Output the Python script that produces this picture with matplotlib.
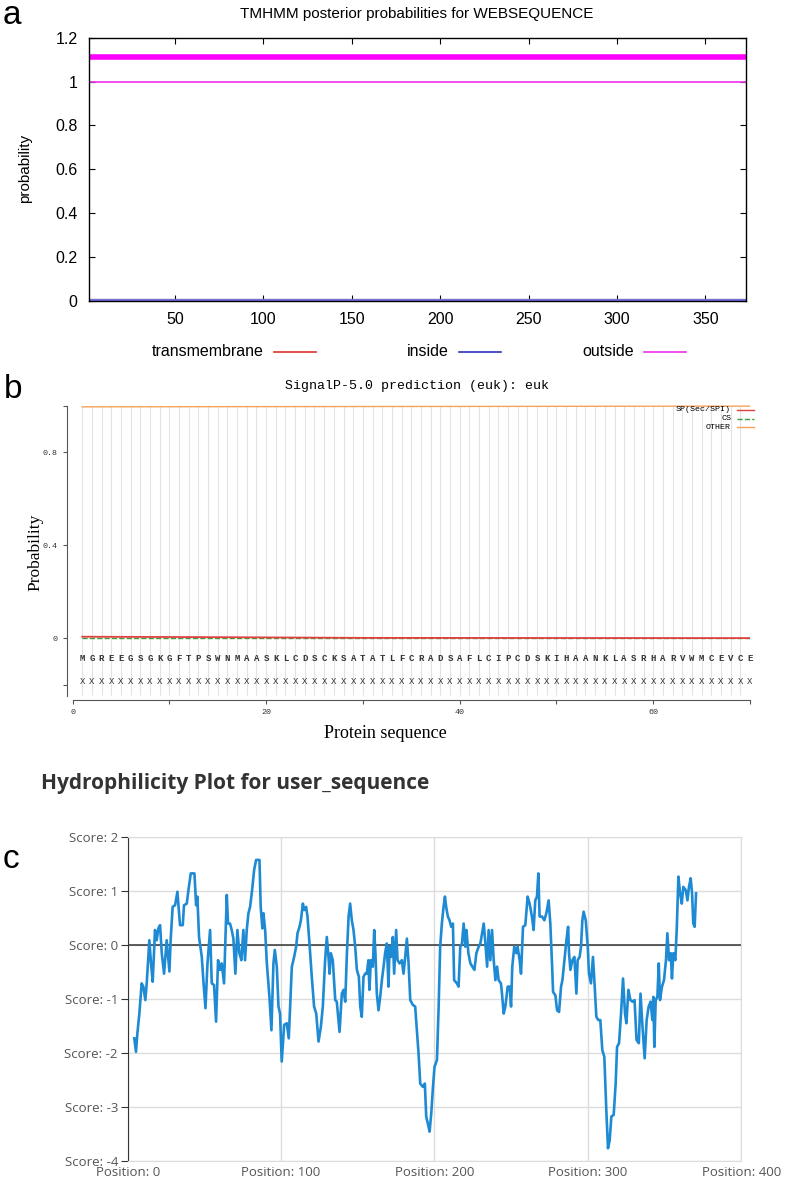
import numpy as np
import matplotlib
matplotlib.use("Agg")
import matplotlib.pyplot as plt
from matplotlib.lines import Line2D

W, H = 786, 1183

# ---------- panel a: TMHMM posterior probabilities ----------
tm_pos = [1, 373]
tm_transmembrane = [0.0, 0.0]
tm_inside = [0.0, 0.0]
tm_outside = [1.0, 1.0]
tm_topology = [1.11, 1.11]  # predicted outside segment, drawn above the curves
tm_xticks = [50, 100, 150, 200, 250, 300, 350]
tm_yticks = [0, 0.2, 0.4, 0.6, 0.8, 1, 1.2]
tm_ylabels = ['0', '0.2', '0.4', '0.6', '0.8', '1', '1.2']

# ---------- panel b: SignalP-5.0 ----------
sequence = "MGREEGSGKGFTPSWNMAASKLCDSCKSATATLFCRADSAFLCIPCDSKIHAANKLASRHARVWMCEVCE"
sp_pos = [1, 15, 30, 70]
sp_prob = [0.007, 0.005, 0.002, 0.001]
cs_pos = [1, 70]
cs_prob = [0.0, 0.0]
other_pos = [1, 70]
other_prob = [0.995, 0.998]
sp_yticks = [-0.2, 0, 0.4, 0.8, 1.0]
sp_ylabels = ['', '0', '0.4', '0.8', '']

# ---------- panel c: hydrophilicity ----------
hyd_pos = [4.3, 5.4, 6.3, 7.6, 9.1, 10.2, 11.5, 12.4, 14.1, 15.2, 16.3, 17.8, 18.9, 20, 21.1,
           22.2, 23.7, 25.4, 27.2, 28, 29.3, 30.9, 32.4, 33.3, 34.1, 35.9, 36.7, 38.5, 39.6,
           41.1, 43.5, 44.6, 45.4, 46.5, 48.3, 49.3, 50.7, 52, 53.7, 54.8, 56.3, 57.6, 58.9,
           60.2, 61.3, 62.8, 64.6, 65.4, 66.7, 67.8, 68.9, 70.2, 71.5, 72.8, 74.1, 75.4, 76.5,
           77.6, 78.7, 79.8, 81.1, 82.4, 83.7, 85.9, 86.7, 87.8, 88.5, 89.6, 90.7, 92.4, 93.7,
           95, 95.9, 97.2, 98.3, 99.3, 100.4, 102, 103.7, 105,
           107, 108.5, 109.8, 110.7, 112, 112.9, 114.2, 115, 116.3, 117.2, 118.5, 120, 121.5,
           122.9, 124.4, 125.9, 127.2, 128.7, 129.8, 130.9, 131.6, 132.4, 133.7, 135.3, 136.3,
           138.1, 139.6, 140.7, 141.8, 142.9, 144, 145, 146.1, 147.2, 148.3, 149.4, 150.7,
           151.6, 152.6, 153.7, 154.8, 155.9, 156.9, 157.6, 158.5, 159.8, 160.7, 161.5, 162.4,
           163.5, 164.6, 165.7, 166.8, 167.8, 168.9, 170, 170.7, 171.7, 172.8, 173.7, 175,
           175.9, 177.2, 178.7, 179.8, 180.9, 182, 183.1, 184.2, 185.9, 187.4, 188.5, 189.6,
           190.7, 192.4, 193.7, 194.6, 195.9, 196.8, 197.9, 199, 200, 201.6, 202.7, 203.7,
           204.8, 205.9, 206.8, 207.6, 208.7, 209.8, 210.9, 212, 212.8, 214.6, 215.7, 216.8,
           217.9, 219, 220.1, 220.8, 222.1, 223.4, 224.7, 226, 227.3, 228.8, 229.9, 231, 232.1,
           233.2, 234.3, 235.3, 236.4, 237.5, 238.6, 239.7, 240.8, 241.8, 243.3,
           244, 245.1, 246.2, 247.7, 249, 249.9, 250.7, 252, 253.4, 254.2, 255.5, 256.4, 257.7,
           259.2, 260.7, 262, 263.5, 264.6, 265.7, 266.8, 267.7, 268.5, 270.1, 271.6, 272.9,
           274.4, 275.5, 276.6, 277.3, 278.8, 279.9, 281.2, 282.5, 283.4, 284.7, 286, 287.1,
           287.7, 288.6, 289.9, 291.2, 292.5, 293.3, 294.6, 295.5, 296.4, 297.2, 298.6, 299.9,
           300.7, 302, 303.3, 304.2, 305.5, 306.8, 308.1, 309.4, 310.7, 312, 313.1, 314.2,
           315.3, 316.8, 318.1, 319, 320.3, 321.6, 322.9, 324.2, 325.1, 326.4, 327.7, 329.1,
           330.4, 331.7, 333.2, 334.3, 335.6, 337, 338.3, 339.6, 340.9, 342, 342.7, 343.3,
           344.2, 345.3, 346.2, 347, 348.3, 349.6, 350.9, 351.8, 352.9, 354, 354.8, 355.7, 357,
           357.9, 359, 360.1, 361.2, 362.2, 363.8, 364.9, 365.9, 367, 367.9, 368.7, 369.6, 370.5]
hyd_score = [-1.73, -1.98, -1.64, -1.27, -0.71, -0.77, -1.02, -0.71, 0.09, -0.34, -0.68, 0.28,
             0.09, 0.31, 0.37, -0.15, -0.53, 0.09, -0.49, 0.09, 0.71, 0.74, 0.99, 0.65, 0.37,
             0.37, 0.74, 0.77, 1.02, 1.33, 1.33, 0.74, 0.90, 0.15, -0.22, -0.65, -1.17, -0.34,
             0.28, -0.71, -0.74, -1.42, -0.28, -0.46, -0.34, -0.71, 0.93, 0.40, 0.40, 0.28, 0.12,
             -0.53, 0.28, -0.15, -0.28, 0.28, -0.28, 0.28, 0.59, 0.71, 1.02, 1.39, 1.58, 1.58,
             0.71, 0.31, 0.59, 0.28, -0.34, -0.96, -1.58, -0.34, -0.09, -0.40, -1.14, -1.27,
             -2.16, -1.48, -1.45, -1.73,
             -0.40, -0.22, -0.03, 0.22, 0.34, 0.46, 0.77, 0.65, 0.71, 0.53, 0.03, -0.59, -1.14,
             -1.27, -1.79, -1.52, -1.14, -0.28, 0.15, -0.22, -0.53, -0.15, -0.28, -1.02, -1.05,
             -1.61, -0.90, -0.83, -1.05, -0.15, 0.53, 0.77, 0.46, 0.28, -0.03, -0.46, -0.59,
             -1.14, -1.33, -0.59, -0.53, -0.53, -0.28, -0.83, -0.28, -0.40, 0.28, -0.15, -0.90,
             -1.21, -0.96, -0.65, -0.40, -0.15, 0.03, -0.77, -0.03, -0.22, 0.15, -0.53, 0.28,
             -0.28, -0.34, -0.28, -0.53, -0.22, 0.12, -0.34, -1.02, -1.11, -1.14, -1.58, -2.01,
             -2.57, -2.63, -2.57, -3.18, -3.34, -3.46, -3.12, -2.63, -2.26, -2.13, -1.14, -0.03,
             0.40, 0.71, 0.90, 0.71, 0.53, 0.46, 0.34, 0.40, -0.65, -0.71, -0.77, -0.03,
             0.03, 0.40, -0.03, 0.28, -0.15, -0.34, -0.40, -0.46, -0.15, -0.03, 0.03, 0.22, 0.40,
             0.03, -0.40, 0.28, -0.28, 0.28, -0.28, -0.65, -0.40, -0.65, -0.71,
             -0.90, -1.27, -1.14, -0.77, -0.77, -1.14, -0.40, -0.03, -0.15, -0.03, -0.28, -0.53,
             0.34, 0.37, 0.90, 0.77, 0.53, 0.28, 0.83, 0.90, 1.33, 0.53, 0.53, 0.46, 0.59,
             0.83, 0.40, -0.34, -0.87, -0.93, -1.21, -1.24, -0.77, -0.65, -0.28, 0.09, 0.34,
             -0.15, -0.46, -0.28, -0.22, -0.90, -0.28, -0.22, -0.03, 0.46, 0.62, 0.46, -0.03,
             -0.53, -0.71, -0.22, -0.65, -1.33, -1.39, -1.39, -1.95, -2.07, -3.06, -3.77, -3.62,
             -3.18, -3.15, -2.57, -1.89, -1.82, -1.27, -0.62, -1.27, -1.45, -0.83, -1.02, -1.05,
             -1.02, -1.76, -1.82, -0.90, -1.52, -2.10, -1.39, -1.14, -1.05, -1.39, -0.96, -1.89,
             -1.02, -0.96, -0.34, -1.02, -0.77, -0.65, -0.28, 0.22, -0.28, -0.15, -0.62, -0.15,
             -0.28, 0.28, 1.27, 0.96, 0.77, 1.08, 1.02, 0.83, 1.08, 1.24, 0.96, 0.40, 0.34, 0.96]
hyd_xticks = [0, 100, 200, 300, 400]
hyd_yticks = [-4, -3, -2, -1, 0, 1, 2]


def box(left, top, right, bottom):
    # pixel box -> figure fraction rect
    return [left / W, 1 - bottom / H, (right - left) / W, (bottom - top) / H]


def fx(px):
    return px / W


def fy(py):
    return 1 - py / H


fig = plt.figure(figsize=(W / 100, H / 100), dpi=100)
sans = ['Liberation Sans', 'DejaVu Sans']
mono = ['Liberation Mono', 'DejaVu Sans Mono']
serif = ['Liberation Serif', 'DejaVu Serif']

# ================= a =================
ax1 = fig.add_axes(box(88.5, 37.7, 746, 301))
ax1.plot(tm_pos, tm_topology, color='#ff00ff', lw=4, solid_capstyle='butt')
ax1.plot(tm_pos, tm_outside, color='#ee30ee', lw=1.2)
ax1.plot(tm_pos, tm_transmembrane, color='#e03030', lw=3)
ax1.plot(tm_pos, tm_inside, color='#7070dd', lw=3)
ax1.set_xlim(1, 373)
ax1.set_ylim(0, 1.2)
ax1.set_xticks(tm_xticks)
ax1.set_yticks(tm_yticks)
ax1.set_yticklabels(tm_ylabels)
ax1.tick_params(direction='in', top=True, right=True, length=4, labelsize=11.5, pad=8)
for lab in ax1.get_xticklabels() + ax1.get_yticklabels():
    lab.set_family(sans)
for s in ax1.spines.values():
    s.set_linewidth(1.0)
fig.text(fx(417), fy(14), 'TMHMM posterior probabilities for WEBSEQUENCE', ha='center',
         va='center', fontsize=11, family=sans)
fig.text(fx(25), fy(168), 'probability', rotation=90, ha='center', va='center',
         fontsize=11, family=sans)
legend_items = [('transmembrane', '#e03030', 264), ('inside', '#3030c0', 449),
                ('outside', '#ee30ee', 634)]
for name, col, xr in legend_items:
    fig.text(fx(xr), fy(352), name, ha='right', va='center', fontsize=11.5, family=sans)
    fig.add_artist(Line2D([fx(xr + 10), fx(xr + 52)], [fy(352), fy(352)], color=col, lw=1.2))

# ================= b =================
ax2 = fig.add_axes(box(67, 401, 750, 700))
x0 = -0.57
ax2.set_xlim(x0, 70)
ax2.set_ylim(-0.265, 1.02)
res = np.arange(1, len(sequence) + 1)
ax2.vlines(res, -0.245, 1.0, color='#e2e2e2', lw=0.8, zorder=0)
ax2.plot(other_pos, other_prob, color='#f5a35a', lw=1.0, label='OTHER')
ax2.plot(cs_pos, cs_prob, color='#3aa03a', lw=1.0, ls='--', label='CS')
ax2.plot(sp_pos, sp_prob, color='#e04040', lw=1.3, label='SP(Sec/SPI)')
for i, ch in enumerate(sequence):
    ax2.text(res[i], -0.086, ch, ha='center', va='center', fontsize=6.5, family=mono,
             fontweight='bold', color='#333333')
    ax2.text(res[i], -0.187, 'X', ha='center', va='center', fontsize=6.5, family=mono,
             color='#333333')
for s in ['top', 'right']:
    ax2.spines[s].set_visible(False)
ax2.spines['left'].set_bounds(-0.248, 1.0)
ax2.spines['bottom'].set_bounds(0, 70)
ax2.spines['left'].set_color('#555555')
ax2.spines['bottom'].set_color('#555555')
ax2.set_yticks(sp_yticks)
ax2.set_yticklabels(sp_ylabels)
ax2.set_xticks([0, 10, 20, 30, 40, 50, 60, 70])
ax2.set_xticklabels(['0', '', '20', '', '40', '', '60', ''])
ax2.tick_params(labelsize=6, length=3, color='#555555', labelcolor='#333333')
for lab in ax2.get_xticklabels() + ax2.get_yticklabels():
    lab.set_family(mono)
fig.text(fx(417), fy(386), 'SignalP-5.0 prediction (euk): euk', ha='center', va='center',
         fontsize=9.5, family=mono)
fig.text(fx(385), fy(734), 'Protein sequence', ha='center', va='center', fontsize=13,
         family=serif)
fig.text(fx(35), fy(552), 'Probability', rotation=90, ha='center', va='center', fontsize=12.5,
         family=serif)
leg_rows = [('SP(Sec/SPI)', '#e04040', '-', 410), ('CS', '#3aa03a', '--', 418.5),
            ('OTHER', '#f5a35a', '-', 427)]
for name, col, ls, yy in leg_rows:
    fig.text(fx(731), fy(yy), name, ha='right', va='center', fontsize=6, family=mono)
    fig.add_artist(Line2D([fx(737), fx(754)], [fy(yy), fy(yy)], color=col, lw=1.0, ls=ls))

# ================= c =================
ax3 = fig.add_axes(box(127.7, 837.3, 741.3, 1160.7))
ax3.plot(hyd_pos, hyd_score, color='#1f8ad4', lw=1.9, zorder=3)
ax3.set_xlim(0, 400)
ax3.set_ylim(-4, 2)
ax3.set_xticks(hyd_xticks)
ax3.set_xticklabels(['Position: %d' % v for v in hyd_xticks])
ax3.set_yticks(hyd_yticks)
ax3.set_yticklabels(['Score: %d' % v for v in hyd_yticks])
ax3.grid(True, color='#dcdcdc', lw=1.0)
ax3.axhline(0, color='#333333', lw=1.1, zorder=2)
for s in ['top', 'right', 'bottom']:
    ax3.spines[s].set_color('#dcdcdc')
ax3.spines['left'].set_color('#333333')
ax3.tick_params(axis='y', length=5, color='#333333', labelsize=9.5, labelcolor='#555555',
                pad=2)
ax3.tick_params(axis='x', length=0, labelsize=9.5, labelcolor='#555555', pad=4)
for lab in ax3.get_xticklabels() + ax3.get_yticklabels():
    lab.set_family(['Open Sans', 'DejaVu Sans'])
fig.text(fx(41), fy(783), 'Hydrophilicity Plot for user_sequence', ha='left', va='center',
         fontsize=15, fontweight='bold', color='#333333', family=['Open Sans', 'DejaVu Sans'])

# panel letters
for letter, px, py in [('a', 12, 16), ('b', 13, 390), ('c', 11, 860)]:
    fig.text(fx(px), fy(py), letter, ha='center', va='center', fontsize=24, family=sans)

fig.savefig('out.png', dpi=100)
